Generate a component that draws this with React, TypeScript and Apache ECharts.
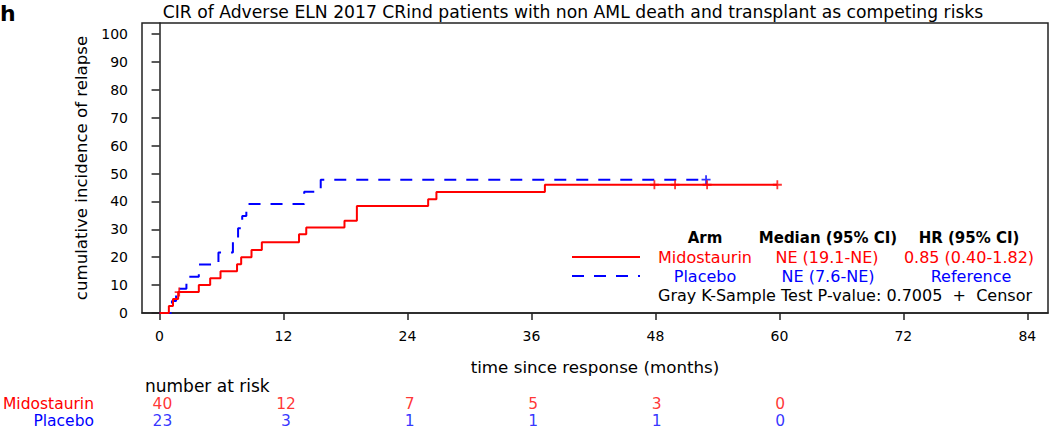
import React, { useEffect, useRef } from "react";
import * as echarts from "echarts";

// ---- data ----
const midoTimes = [0, 0.9, 1.3, 1.8, 3.8, 4.9, 5.9, 7.5, 7.9, 8.9, 9.9, 13.5, 14.2, 17.9, 19.1, 26.0, 26.8, 37.3, 59.8];
const midoCIR = [0, 2.5, 5.0, 7.5, 10.0, 12.5, 15.0, 17.5, 20.0, 22.6, 25.4, 28.2, 30.7, 33.1, 38.4, 40.8, 43.4, 46.0, 46.0];
const midoCensorTimes = [1.9, 47.9, 49.9, 53.0, 59.8];
const midoCensorCIR = [7.5, 46.0, 46.0, 46.0, 46.0];

const placeboTimes = [0, 1.2, 1.6, 2.6, 3.8, 5.7, 7.1, 7.6, 8.0, 8.4, 14.0, 15.6, 52.9];
const placeboCIR = [0, 4.3, 8.7, 13.0, 17.4, 21.7, 26.1, 30.4, 34.8, 39.1, 43.5, 47.8, 47.8];
const placeboCensorTimes = [52.9];
const placeboCensorCIR = [47.8];

const xTicks = [0, 12, 24, 36, 48, 60, 72, 84];
const yTicks = [0, 10, 20, 30, 40, 50, 60, 70, 80, 90, 100];

const riskRows = ["Placebo", "Midostaurin"];
const riskMonths = [0, 12, 24, 36, 48, 60];
const midoAtRisk = [40, 12, 7, 5, 3, 0];
const placeboAtRisk = [23, 3, 1, 1, 1, 0];

const RED = "#ff0000";
const BLUE = "#0000ff";
const FONT = "DejaVu Sans";
const PLUS = "path://M4,0H6V4H10V6H6V10H4V6H0V4H4Z";
const RISK_FS = 15.5;

export default function App() {
  const ref = useRef<HTMLDivElement>(null);
  useEffect(() => {
    if (!ref.current) return;
    const chart = echarts.init(ref.current, undefined, { renderer: "svg" });
    const zip = (a: number[], b: number[]) => a.map((v, i) => [v, b[i]]);
    const riskLabel = (color: string) => ({
      show: true, position: "inside", formatter: (p: any) => String(p.value[2]),
      color, fontSize: RISK_FS, fontFamily: FONT, lineHeight: 15,
    });
    const option: any = {
      animation: false,
      backgroundColor: "#fff",
      textStyle: { fontFamily: FONT },
      grid: [
        { left: 142, right: 2, top: 23, height: 290, show: true, borderColor: "#222", borderWidth: 1.5, containLabel: false },
        { left: 142, right: 2, top: 395.5, height: 36, show: false },
      ],
      xAxis: [
        {
          type: "value", gridIndex: 0, min: -1.7, max: 86,
          splitLine: { show: false },
          axisLine: { show: true, lineStyle: { color: "#222", width: 1.5 } },
          axisTick: { show: true, length: 7, lineStyle: { color: "#222", width: 1.5 }, customValues: xTicks },
          axisLabel: { customValues: xTicks, color: "#000", fontSize: 14, fontFamily: FONT, margin: 16 },
          name: "time since response (months)", nameLocation: "middle", nameGap: 45,
          nameTextStyle: { color: "#000", fontSize: 16.7, fontFamily: FONT },
        },
        { type: "value", gridIndex: 1, min: -1.7, max: 86, show: false },
      ],
      yAxis: [
        {
          type: "value", gridIndex: 0, min: 0, max: 104,
          splitLine: { show: false },
          axisLine: { show: true, lineStyle: { color: "#222", width: 1.5 } },
          axisTick: { show: true, length: 8, lineStyle: { color: "#222", width: 1.5 }, customValues: yTicks },
          axisLabel: { customValues: yTicks, color: "#000", fontSize: 14, fontFamily: FONT, margin: 14 },
          name: "cumulative incidence of relapse", nameLocation: "middle", nameGap: 40, nameRotate: 90,
          nameTextStyle: { color: "#000", fontSize: 16.6, fontFamily: FONT },
        },
        {
          type: "category", gridIndex: 1, data: riskRows,
          axisLine: { show: false }, axisTick: { show: false }, splitLine: { show: false },
          axisLabel: {
            interval: 0, margin: 51, fontSize: RISK_FS, fontFamily: FONT, lineHeight: 15,
            formatter: (v: string) => (v === "Midostaurin" ? `{r|${v}}` : `{b|${v}}`),
            rich: {
              r: { color: RED, fontSize: RISK_FS, fontFamily: FONT, lineHeight: 15 },
              b: { color: BLUE, fontSize: RISK_FS, fontFamily: FONT, lineHeight: 15 },
            },
          },
        },
      ],
      series: [
        {
          type: "line", step: "end", xAxisIndex: 0, yAxisIndex: 0, symbol: "none",
          data: zip(placeboTimes, placeboCIR),
          lineStyle: { color: BLUE, width: 2, type: [12, 10] }, z: 3,
        },
        {
          type: "line", step: "end", xAxisIndex: 0, yAxisIndex: 0, symbol: "none",
          data: zip(midoTimes, midoCIR),
          lineStyle: { color: RED, width: 2 }, z: 4,
        },
        {
          type: "scatter", xAxisIndex: 0, yAxisIndex: 0, symbol: PLUS, symbolSize: 9,
          data: zip(placeboCensorTimes, placeboCensorCIR), itemStyle: { color: BLUE }, z: 5,
        },
        {
          type: "scatter", xAxisIndex: 0, yAxisIndex: 0, symbol: PLUS, symbolSize: 9,
          data: zip(midoCensorTimes, midoCensorCIR), itemStyle: { color: RED }, z: 6,
        },
        {
          type: "scatter", xAxisIndex: 1, yAxisIndex: 1, symbolSize: 2, itemStyle: { color: "rgba(0,0,0,0)" },
          data: riskMonths.map((m, i) => [m, "Midostaurin", midoAtRisk[i]]),
          label: riskLabel(RED),
        },
        {
          type: "scatter", xAxisIndex: 1, yAxisIndex: 1, symbolSize: 2, itemStyle: { color: "rgba(0,0,0,0)" },
          data: riskMonths.map((m, i) => [m, "Placebo", placeboAtRisk[i]]),
          label: riskLabel(BLUE),
        },
      ],
      graphic: [
        { type: "text", left: 0, top: 2, style: { text: "h", font: `bold 22px ${FONT}`, fill: "#000" } },
        { type: "text", x: 573, y: 12, style: { text: "CIR of Adverse ELN 2017 CRind patients with non AML death and transplant as competing risks", font: `17.2px ${FONT}`, fill: "#000", textAlign: "center", textVerticalAlign: "middle" } },
        { type: "text", x: 705, y: 238, style: { text: "Arm", font: `bold 15px ${FONT}`, fill: "#000", textAlign: "center", textVerticalAlign: "middle" } },
        { type: "text", x: 828, y: 238, style: { text: "Median (95% CI)", font: `bold 15px ${FONT}`, fill: "#000", textAlign: "center", textVerticalAlign: "middle" } },
        { type: "text", x: 969, y: 238, style: { text: "HR (95% CI)", font: `bold 15px ${FONT}`, fill: "#000", textAlign: "center", textVerticalAlign: "middle" } },
        { type: "line", shape: { x1: 572, y1: 257, x2: 640, y2: 257 }, style: { stroke: RED, lineWidth: 2 } },
        { type: "line", shape: { x1: 572, y1: 276, x2: 640, y2: 276 }, style: { stroke: BLUE, lineWidth: 2, lineDash: [12, 10] } },
        { type: "text", x: 705, y: 257, style: { text: "Midostaurin", font: `16px ${FONT}`, fill: RED, textAlign: "center", textVerticalAlign: "middle" } },
        { type: "text", x: 827, y: 257, style: { text: "NE (19.1-NE)", font: `16px ${FONT}`, fill: RED, textAlign: "center", textVerticalAlign: "middle" } },
        { type: "text", x: 969, y: 257, style: { text: "0.85 (0.40-1.82)", font: `16px ${FONT}`, fill: RED, textAlign: "center", textVerticalAlign: "middle" } },
        { type: "text", x: 705, y: 276, style: { text: "Placebo", font: `16px ${FONT}`, fill: BLUE, textAlign: "center", textVerticalAlign: "middle" } },
        { type: "text", x: 828, y: 276, style: { text: "NE (7.6-NE)", font: `16px ${FONT}`, fill: BLUE, textAlign: "center", textVerticalAlign: "middle" } },
        { type: "text", x: 971, y: 276, style: { text: "Reference", font: `16px ${FONT}`, fill: BLUE, textAlign: "center", textVerticalAlign: "middle" } },
        { type: "text", x: 658, y: 295, style: { text: "Gray K-Sample Test P-value: 0.7005  +  Censor", font: `16px ${FONT}`, fill: "#000", textAlign: "left", textVerticalAlign: "middle" } },
        { type: "text", x: 145, y: 386, style: { text: "number at risk", font: `17px ${FONT}`, fill: "#000", textAlign: "left", textVerticalAlign: "middle" } },
      ],
    };
    chart.setOption(option);
    return () => chart.dispose();
  }, []);
  return <div ref={ref} style={{ position: "absolute", left: 0, top: 0, width: 1050, height: 429 }} />;
}
